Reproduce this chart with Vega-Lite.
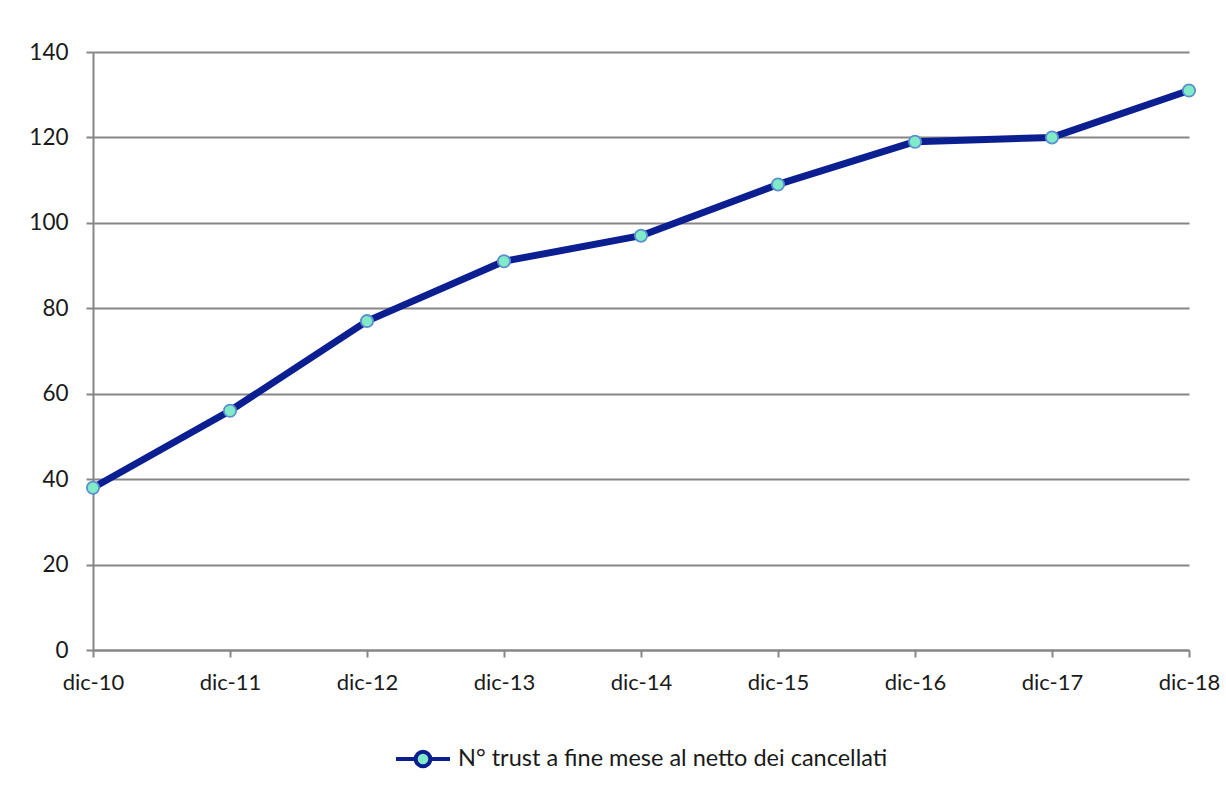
{
  "$schema": "https://vega.github.io/schema/vega-lite/v6.json",
  "width": 1096,
  "height": 598,
  "autosize": {"type": "none"},
  "padding": {"left": 93, "top": 52, "right": 37, "bottom": 142},
  "background": "white",
  "config": {
    "view": {"stroke": null},
    "font": "Lato",
    "axis": {
      "labelFont": "Lato",
      "labelFontSize": 22,
      "labelColor": "#1a1a1a",
      "domainColor": "#868686",
      "domainWidth": 2,
      "tickColor": "#868686",
      "tickWidth": 2,
      "tickSize": 7,
      "gridColor": "#868686",
      "gridWidth": 2,
      "title": null
    },
    "legend": {
      "labelFont": "Lato",
      "labelFontSize": 23.5,
      "labelColor": "#1a1a1a",
      "labelLimit": 0,
      "layout": {"bottom": {"anchor": "middle"}}
    }
  },
  "data": {
    "values": [
      {"mese": "dic-10", "n": 38, "serie": "N° trust a fine mese al netto dei cancellati"},
      {"mese": "dic-11", "n": 56, "serie": "N° trust a fine mese al netto dei cancellati"},
      {"mese": "dic-12", "n": 77, "serie": "N° trust a fine mese al netto dei cancellati"},
      {"mese": "dic-13", "n": 91, "serie": "N° trust a fine mese al netto dei cancellati"},
      {"mese": "dic-14", "n": 97, "serie": "N° trust a fine mese al netto dei cancellati"},
      {"mese": "dic-15", "n": 109, "serie": "N° trust a fine mese al netto dei cancellati"},
      {"mese": "dic-16", "n": 119, "serie": "N° trust a fine mese al netto dei cancellati"},
      {"mese": "dic-17", "n": 120, "serie": "N° trust a fine mese al netto dei cancellati"},
      {"mese": "dic-18", "n": 131, "serie": "N° trust a fine mese al netto dei cancellati"}
    ]
  },
  "encoding": {
    "x": {
      "field": "mese",
      "type": "ordinal",
      "sort": null,
      "scale": {"type": "point", "padding": 0},
      "axis": {"labelAngle": 0, "labelPadding": 15, "grid": false}
    },
    "y": {
      "field": "n",
      "type": "quantitative",
      "scale": {"domain": [0, 140], "nice": false},
      "axis": {"values": [0, 20, 40, 60, 80, 100, 120, 140], "labelPadding": 18, "labelFontSize": 22.5, "grid": true}
    }
  },
  "layer": [
    {
      "mark": {"type": "line", "strokeWidth": 7, "strokeCap": "round", "strokeJoin": "round"},
      "encoding": {
        "color": {
          "field": "serie",
          "type": "nominal",
          "scale": {"range": ["#0B1F91"]},
          "legend": {
            "orient": "bottom",
            "title": null,
            "offset": 37,
            "symbolType": "M-1,0L-0.3,0M0.27,0A0.27,0.27 0 1,1 -0.27,0A0.27,0.27 0 1,1 0.27,0ZM0.3,0L1,0",
            "symbolSize": 2916,
            "symbolStrokeWidth": 4,
            "labelOffset": 6,
            "encode": {
              "symbols": {
                "update": {
                  "fill": {"value": "#80EBC6"},
                  "stroke": {"value": "#0B1F91"},
                  "strokeWidth": {"value": 4},
                  "opacity": {"value": 1}
                }
              }
            }
          }
        }
      }
    },
    {
      "mark": {"type": "point", "filled": true, "size": 150, "fill": "#80EBC6", "stroke": "#5B8FD0", "strokeWidth": 1.8, "opacity": 1}
    }
  ]
}
